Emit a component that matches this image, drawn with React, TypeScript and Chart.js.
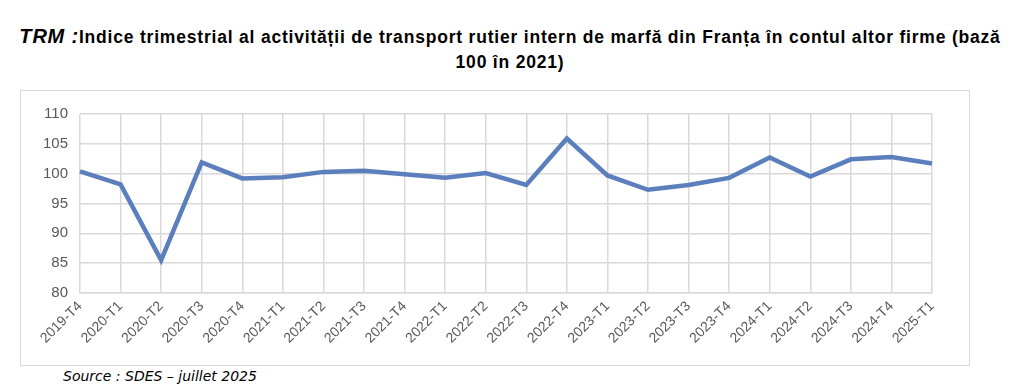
import React, { useEffect, useRef } from "react";
import { Chart, registerables } from "chart.js";

Chart.register(...registerables);

const categories = [
  "2019-T4", "2020-T1", "2020-T2", "2020-T3", "2020-T4", "2021-T1", "2021-T2", "2021-T3",
  "2021-T4", "2022-T1", "2022-T2", "2022-T3", "2022-T4", "2023-T1", "2023-T2", "2023-T3",
  "2023-T4", "2024-T1", "2024-T2", "2024-T3", "2024-T4", "2025-T1",
];
const indexValues = [
  100.4, 98.2, 85.5, 101.9, 99.2, 99.4, 100.3, 100.5,
  99.9, 99.3, 100.1, 98.1, 105.9, 99.7, 97.3, 98.1,
  99.3, 102.7, 99.5, 102.4, 102.8, 101.7,
];
const yMin = 80;
const yMax = 110;
const yStep = 5;

export default function App() {
  const canvasRef = useRef<HTMLCanvasElement | null>(null);

  useEffect(() => {
    if (!canvasRef.current) return;
    const chart = new Chart(canvasRef.current, {
      type: "line",
      data: {
        labels: categories,
        datasets: [
          {
            data: indexValues,
            borderColor: "#5b7fbd",
            borderWidth: 4.5,
            pointRadius: 0,
            tension: 0,
            fill: false,
          },
        ],
      },
      options: {
        animation: false,
        responsive: false,
        maintainAspectRatio: false,
        layout: { padding: { top: 23, right: 37, left: 0, bottom: 0 } },
        plugins: { legend: { display: false }, tooltip: { enabled: false } },
        scales: {
          x: {
            offset: false,
            grid: { color: "#d9d9d9", lineWidth: 1.5, drawTicks: false },
            border: { color: "#d9d9d9", width: 1.5 },
            ticks: {
              color: "#595959",
              font: { family: "'Liberation Sans', sans-serif", size: 14 },
              maxRotation: 45,
              minRotation: 45,
              autoSkip: false,
              padding: 5,
            },
            afterFit: (s: any) => {
              s.height = 72;
            },
          },
          y: {
            min: yMin,
            max: yMax,
            grid: { color: "#d9d9d9", lineWidth: 1.5, drawTicks: false },
            border: { display: false },
            ticks: {
              stepSize: yStep,
              color: "#595959",
              font: { family: "'Liberation Sans', sans-serif", size: 15 },
              padding: 12,
            },
            afterFit: (s: any) => {
              s.width = 59;
            },
          },
        },
      },
    });
    return () => chart.destroy();
  }, []);

  return (
    <div style={{ position: "fixed", left: 0, top: 0, width: 1024, height: 388, background: "#fff" }}>
      <div
        style={{
          position: "absolute",
          left: 0,
          top: 24,
          width: 1020,
          textAlign: "center",
          fontFamily: "'Liberation Sans', sans-serif",
          fontWeight: "bold",
          fontSize: 17.5,
          letterSpacing: 0.8,
          lineHeight: "25px",
          color: "#000",
          whiteSpace: "nowrap",
        }}
      >
        <span style={{ fontStyle: "italic", fontSize: 20 }}>TRM :</span>Indice trimestrial al activității de transport
        rutier intern de marfă din Franța în contul altor firme (bază
        <br />
        100 în 2021)
      </div>
      <div
        style={{
          position: "absolute",
          left: 20,
          top: 90,
          width: 948,
          height: 274,
          border: "1px solid #d9d9d9",
        }}
      >
        <canvas ref={canvasRef} width={948} height={274} style={{ display: "block" }} />
      </div>
      <div
        style={{
          position: "absolute",
          left: 63,
          top: 368,
          fontFamily: "'DejaVu Sans', sans-serif",
          fontStyle: "italic",
          fontSize: 14,
          color: "#000",
        }}
      >
        Source : SDES – juillet 2025
      </div>
    </div>
  );
}
